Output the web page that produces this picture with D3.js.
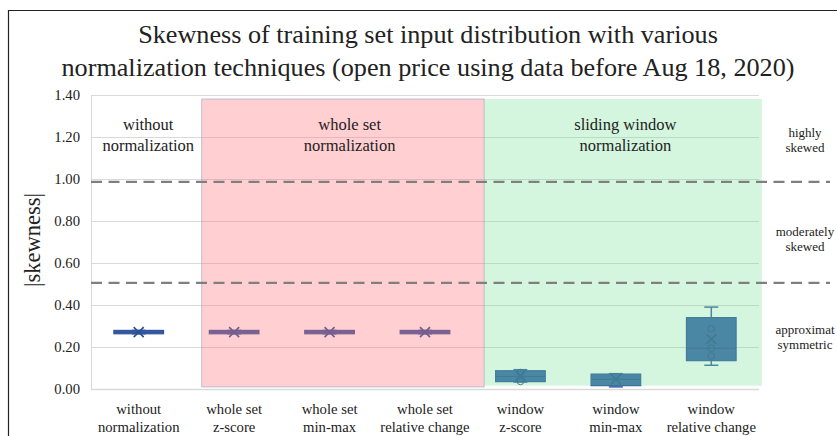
<!DOCTYPE html>
<html><head><meta charset="utf-8">
<script src="https://cdn.jsdelivr.net/npm/d3@7"></script>
<style>body{margin:0;background:#fff;} text{font-family:"Liberation Serif","Times New Roman",serif;fill:#222;}</style>
</head><body>
<svg id="chart" width="837" height="436"></svg>
<script>
// ---- data ----
const categories = ["without\nnormalization","whole set\nz-score","whole set\nmin-max","whole set\nrelative change","window\nz-score","window\nmin-max","window\nrelative change"];
const whiskerLow  = [0.263, 0.263, 0.263, 0.263, 0.033, 0.010, 0.113];
const q1          = [0.263, 0.263, 0.263, 0.263, 0.035, 0.016, 0.135];
const median      = [0.271, 0.271, 0.271, 0.271, 0.060, 0.046, 0.194];
const q3          = [0.279, 0.279, 0.279, 0.279, 0.087, 0.071, 0.340];
const whiskerHigh = [0.279, 0.279, 0.279, 0.279, 0.092, 0.073, 0.390];
const means       = [0.271, 0.271, 0.271, 0.271, 0.064, 0.046, 0.237];
const innerPoints = [[], [], [], [], [0.078, 0.036], [], [0.287, 0.194, 0.157]];
const yTicks = [0, 0.2, 0.4, 0.6, 0.8, 1.0, 1.2, 1.4];
const thresholds = [0.986, 0.505];
const regionNames = ["without\nnormalization", "whole set\nnormalization", "sliding window\nnormalization"];
const regionStart = [0, 1.16, 4.12];   // in category units
const regionEnd   = [1.16, 4.12, 7.03];
const regionTop   = [null, 1.381, 1.381];
const regionBottom= [null, 0.010, 0.016];
const regionLabelAt = [0.6, 2.71, 5.6];
const zoneLabels = ["highly\nskewed", "moderately\nskewed", "approximat\nsymmetric"];
const zoneLabelY = [1.22, 0.75, 0.28];
const titleLines = ["Skewness of training set input distribution with various", "normalization techniques (open price using data before Aug 18, 2020)"];

// ---- layout ----
const svg = d3.select("#chart");
const L = 91, R = 759, T = 95, B = 389;
const x = d3.scaleBand().domain(categories).range([L, R]).padding(0);
const xu = d3.scaleLinear().domain([0, categories.length]).range([L, R]);
const y = d3.scaleLinear().domain([0, 1.4]).range([B, T]);
const boxW = x.bandwidth() * 0.52;
const boxColor = "#3a62ad";

// frame
svg.append("path").attr("d", `M8.5,436 V10.5 H837`).attr("fill","none").attr("stroke","#222").attr("stroke-width",1.2);

// title
svg.append("g").selectAll("text").data(titleLines).join("text")
  .attr("x", 428).attr("y", (d,i) => 43 + i*33).attr("text-anchor","middle")
  .style("font-size","26.2px").text(d => d);

// gridlines
svg.append("g").selectAll("line").data(yTicks).join("line")
  .attr("x1", L).attr("x2", R).attr("y1", d => y(d)+0.5).attr("y2", d => y(d)+0.5)
  .attr("stroke", "#d9d9d9").attr("stroke-width", d => d === 0 ? 1.5 : 1);
svg.append("line").attr("x1", L+0.5).attr("x2", L+0.5).attr("y1", T).attr("y2", B).attr("stroke","#d9d9d9");

// y axis labels
const yAxis = d3.axisLeft(y).tickValues(yTicks).tickFormat(d3.format(".2f")).tickSize(0).tickPadding(11);
const ya = svg.append("g").attr("transform", `translate(${L},0)`).call(yAxis);
ya.select(".domain").remove();
ya.selectAll("text").style("font-size","14.7px").attr("fill","#222").style("font-family","'Liberation Serif',serif");

svg.append("text").attr("transform", `translate(40,240) rotate(-90)`).attr("text-anchor","middle")
  .style("font-size","22.5px").text("|skewness|");

// x axis labels
const xl = svg.append("g").selectAll("text").data(categories).join("text")
  .attr("x", d => x(d) + x.bandwidth()/2).attr("y", 414).attr("text-anchor","middle").style("font-size","14.7px");
xl.selectAll("tspan").data(d => d.split("\n")).join("tspan")
  .attr("x", function(){ return this.parentNode.getAttribute("x"); })
  .attr("dy", (d,i) => i ? 18 : 0).text(d => d);

// boxes
const boxes = svg.append("g").selectAll("g").data(categories).join("g")
  .attr("transform", d => `translate(${x(d) + x.bandwidth()/2},0)`);
boxes.append("line").attr("y1",(d,i)=>y(whiskerHigh[i])).attr("y2",(d,i)=>y(q3[i])).attr("stroke",boxColor).attr("stroke-width",1.5);
boxes.append("line").attr("y1",(d,i)=>y(whiskerLow[i])).attr("y2",(d,i)=>y(q1[i])).attr("stroke",boxColor).attr("stroke-width",1.5);
boxes.append("line").attr("x1",-7).attr("x2",7).attr("y1",(d,i)=>y(whiskerHigh[i])).attr("y2",(d,i)=>y(whiskerHigh[i])).attr("stroke",boxColor).attr("stroke-width",1.5);
boxes.append("line").attr("x1",-7).attr("x2",7).attr("y1",(d,i)=>y(whiskerLow[i])).attr("y2",(d,i)=>y(whiskerLow[i])).attr("stroke",boxColor).attr("stroke-width",1.5);
boxes.append("rect").attr("x",-boxW/2).attr("width",boxW)
  .attr("y",(d,i)=>y(q3[i])).attr("height",(d,i)=>Math.max(y(q1[i])-y(q3[i]),1))
  .attr("fill",boxColor).attr("stroke","#2f559c").attr("stroke-width",1.2);
boxes.append("line").attr("x1",-boxW/2).attr("x2",boxW/2).attr("y1",(d,i)=>y(median[i])).attr("y2",(d,i)=>y(median[i])).attr("stroke","#2a4f93").attr("stroke-width",1);
boxes.each(function(d,i){
  const g = d3.select(this);
  g.selectAll("circle").data(innerPoints[i]).join("circle").attr("cx",0).attr("cy",v=>y(v)).attr("r",3.3)
    .attr("fill","none").attr("stroke","#2a4f93").attr("stroke-width",1);
  const my = y(means[i]);
  g.append("path").attr("d",`M-5,${my-5}L5,${my+5}M-5,${my+5}L5,${my-5}`).attr("stroke","#2a4f93").attr("stroke-width",1.6);
});

// translucent region overlays
const regionFill = [null, "rgba(255,118,126,0.35)", "rgba(112,222,145,0.3)"];
regionNames.forEach((n,i) => {
  if (regionTop[i] === null) return;
  svg.append("rect").attr("x", xu(regionStart[i])).attr("width", xu(regionEnd[i]) - xu(regionStart[i]))
    .attr("y", y(regionTop[i])).attr("height", y(regionBottom[i]) - y(regionTop[i]))
    .attr("fill", regionFill[i]).attr("stroke", i===1 ? "rgba(150,160,200,0.6)" : "none").attr("stroke-width",1);
});

// region labels
const rl = svg.append("g").selectAll("text").data(regionNames).join("text")
  .attr("x",(d,i)=>xu(regionLabelAt[i])).attr("y",130).attr("text-anchor","middle").style("font-size","16.5px");
rl.selectAll("tspan").data(d=>d.split("\n")).join("tspan")
  .attr("x", function(){ return this.parentNode.getAttribute("x"); })
  .attr("dy",(d,i)=>i?21:0).text(d=>d);

// threshold dashed lines
svg.append("g").selectAll("line").data(thresholds).join("line")
  .attr("x1", L).attr("x2", 830).attr("y1", d=>y(d)).attr("y2", d=>y(d))
  .attr("stroke","#7f7f7f").attr("stroke-width",2.2).attr("stroke-dasharray","11,6.5");

// zone labels
const zl = svg.append("g").selectAll("text").data(zoneLabels).join("text")
  .attr("x",805).attr("y",(d,i)=>y(zoneLabelY[i]) + 4).attr("text-anchor","middle").style("font-size","13px");
zl.selectAll("tspan").data(d=>d.split("\n")).join("tspan")
  .attr("x", function(){ return this.parentNode.getAttribute("x"); })
  .attr("dy",(d,i)=>i?15:0).text(d=>d);
</script>
</body></html>
